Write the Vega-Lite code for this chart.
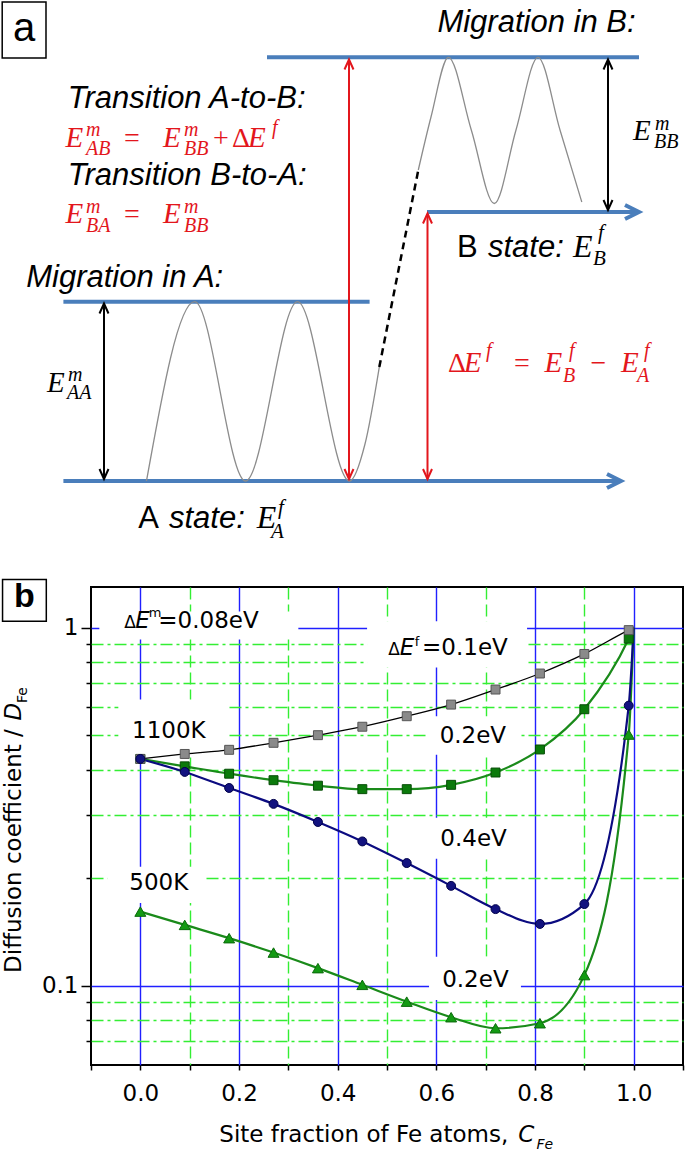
{
  "$schema": "https://vega.github.io/schema/vega-lite/v6.json",
  "padding": 0,
  "background": "white",
  "spacing": 32,
  "align": "none",
  "resolve": {"scale": {"color": "independent", "size": "independent", "fill": "independent", "stroke": "independent", "shape": "independent", "strokeWidth": "independent"}},
  "config": {"view": {"stroke": null}},
  "datasets": {
    "levels": [
      {"x": 267, "x2": 639, "y": 57.3},
      {"x": 427, "x2": 635, "y": 212},
      {"x": 63.4, "x2": 369.6, "y": 301.7},
      {"x": 63.4, "x2": 617, "y": 481}
    ],
    "levelArrowTips": [{"x": 639, "y": 212}, {"x": 621, "y": 481}],
    "landscape": [
      {"curve": "A", "x": 146.5, "y": 481}, {"curve": "A", "x": 194.7, "y": 301.7}, {"curve": "A", "x": 245.5, "y": 481},
      {"curve": "A", "x": 297.5, "y": 301.7}, {"curve": "A", "x": 349.5, "y": 481}, {"curve": "A", "x": 365, "y": 444},
      {"curve": "A", "x": 379.3, "y": 367},
      {"curve": "B", "x": 418.3, "y": 170}, {"curve": "B", "x": 431, "y": 117}, {"curve": "B", "x": 448.4, "y": 57.3},
      {"curve": "B", "x": 471.3, "y": 130}, {"curve": "B", "x": 494.3, "y": 203.5}, {"curve": "B", "x": 516, "y": 130},
      {"curve": "B", "x": 538, "y": 57.3}, {"curve": "B", "x": 560, "y": 130}, {"curve": "B", "x": 581.8, "y": 202}
    ],
    "transitionPath": [{"x": 379.3, "y": 367}, {"x": 418.3, "y": 170}],
    "energyArrows": [
      {"ink": "red", "x": 349, "y": 60, "y2": 479},
      {"ink": "red", "x": 427.5, "y": 214, "y2": 479},
      {"ink": "black", "x": 104, "y": 304, "y2": 479},
      {"ink": "black", "x": 608, "y": 60, "y2": 210}
    ],
    "tipsUp": [
      {"ink": "red", "x": 349, "y": 59.5}, {"ink": "red", "x": 427.5, "y": 213.5},
      {"ink": "black", "x": 104, "y": 303.5}, {"ink": "black", "x": 608, "y": 59.5}
    ],
    "tipsDown": [
      {"ink": "red", "x": 349, "y": 479}, {"ink": "red", "x": 427.5, "y": 479},
      {"ink": "black", "x": 104, "y": 479}, {"ink": "black", "x": 608, "y": 210}
    ],
    "captionsItalic": [
      {"text": "Migration in B:", "x": 437.4, "y": 32},
      {"text": "Transition A-to-B:", "x": 67.8, "y": 108.3},
      {"text": "Transition B-to-A:", "x": 67.8, "y": 185},
      {"text": "Migration in A:", "x": 26.2, "y": 286.7},
      {"text": "state:", "x": 488, "y": 256.7},
      {"text": "state:", "x": 169, "y": 528.3}
    ],
    "captionsUpright": [
      {"text": "B", "x": 457, "y": 256.7},
      {"text": "A", "x": 138.3, "y": 528.3}
    ],
    "mathSymbols": [
      {"text": "E", "x": 65.6, "y": 146.7, "level": "main", "ink": "red"},
      {"text": "m", "x": 86, "y": 136, "level": "script", "ink": "red"},
      {"text": "AB", "x": 86, "y": 155, "level": "script", "ink": "red"},
      {"text": "E", "x": 163, "y": 146.7, "level": "main", "ink": "red"},
      {"text": "m", "x": 184, "y": 136, "level": "script", "ink": "red"},
      {"text": "BB", "x": 184, "y": 155, "level": "script", "ink": "red"},
      {"text": "E", "x": 248, "y": 146.7, "level": "main", "ink": "red"},
      {"text": "f", "x": 272, "y": 134, "level": "script", "ink": "red"},
      {"text": "E", "x": 65.6, "y": 223.3, "level": "main", "ink": "red"},
      {"text": "m", "x": 86, "y": 213, "level": "script", "ink": "red"},
      {"text": "BA", "x": 86, "y": 231.5, "level": "script", "ink": "red"},
      {"text": "E", "x": 163, "y": 223.3, "level": "main", "ink": "red"},
      {"text": "m", "x": 184, "y": 213, "level": "script", "ink": "red"},
      {"text": "BB", "x": 184, "y": 231.5, "level": "script", "ink": "red"},
      {"text": "E", "x": 633, "y": 140, "level": "main", "ink": "black"},
      {"text": "m", "x": 655, "y": 129.5, "level": "script", "ink": "black"},
      {"text": "BB", "x": 654, "y": 148, "level": "script", "ink": "black"},
      {"text": "E", "x": 47, "y": 391.7, "level": "main", "ink": "black"},
      {"text": "m", "x": 68, "y": 381, "level": "script", "ink": "black"},
      {"text": "AA", "x": 67, "y": 399, "level": "script", "ink": "black"},
      {"text": "E", "x": 573, "y": 256.7, "level": "large", "ink": "black"},
      {"text": "f", "x": 598, "y": 239, "level": "largescript", "ink": "black"},
      {"text": "B", "x": 593, "y": 265, "level": "largescript", "ink": "black"},
      {"text": "E", "x": 256.7, "y": 528.3, "level": "large", "ink": "black"},
      {"text": "f", "x": 278, "y": 514, "level": "largescript", "ink": "black"},
      {"text": "A", "x": 271, "y": 538, "level": "largescript", "ink": "black"},
      {"text": "E", "x": 463.7, "y": 371.7, "level": "main", "ink": "red"},
      {"text": "f", "x": 486, "y": 357, "level": "script", "ink": "red"},
      {"text": "E", "x": 544.6, "y": 371.7, "level": "main", "ink": "red"},
      {"text": "f", "x": 569, "y": 357, "level": "script", "ink": "red"},
      {"text": "B", "x": 563, "y": 382, "level": "script", "ink": "red"},
      {"text": "E", "x": 621, "y": 371.7, "level": "main", "ink": "red"},
      {"text": "f", "x": 644, "y": 357, "level": "script", "ink": "red"},
      {"text": "A", "x": 637, "y": 382, "level": "script", "ink": "red"}
    ],
    "mathOperators": [
      {"text": "=", "x": 124, "y": 146.7},
      {"text": "+", "x": 213, "y": 146.7},
      {"text": "Δ", "x": 232, "y": 146.7},
      {"text": "=", "x": 124, "y": 223.3},
      {"text": "Δ", "x": 448, "y": 371.7},
      {"text": "=", "x": 514, "y": 371.7},
      {"text": "−", "x": 590.6, "y": 371.7}
    ],
    "panelFrameA": [{"x": 2.2, "x2": 46, "y": 2, "y2": 58}],
    "panelLetterA": [{"text": "a", "x": 24, "y": 41}],
    "diffusion": [
      {"series": "0.2eV 1100K", "x": 0, "y": 0.430, "sampled": true},
      {"series": "0.2eV 1100K", "x": 0.09, "y": 0.410, "sampled": true},
      {"series": "0.2eV 1100K", "x": 0.18, "y": 0.391, "sampled": true},
      {"series": "0.2eV 1100K", "x": 0.27, "y": 0.375, "sampled": true},
      {"series": "0.2eV 1100K", "x": 0.36, "y": 0.362, "sampled": true},
      {"series": "0.2eV 1100K", "x": 0.45, "y": 0.354, "sampled": true},
      {"series": "0.2eV 1100K", "x": 0.54, "y": 0.354, "sampled": true},
      {"series": "0.2eV 1100K", "x": 0.63, "y": 0.364, "sampled": true},
      {"series": "0.2eV 1100K", "x": 0.72, "y": 0.394, "sampled": true},
      {"series": "0.2eV 1100K", "x": 0.81, "y": 0.457, "sampled": true},
      {"series": "0.2eV 1100K", "x": 0.90, "y": 0.592, "sampled": true},
      {"series": "0.2eV 1100K", "x": 0.99, "y": 0.932, "sampled": true},
      {"series": "0.2eV 1100K", "x": 1.0, "y": 1.0, "sampled": false},
      {"series": "0.1eV 1100K", "x": 0, "y": 0.430, "sampled": true},
      {"series": "0.1eV 1100K", "x": 0.09, "y": 0.444, "sampled": true},
      {"series": "0.1eV 1100K", "x": 0.18, "y": 0.456, "sampled": true},
      {"series": "0.1eV 1100K", "x": 0.27, "y": 0.477, "sampled": true},
      {"series": "0.1eV 1100K", "x": 0.36, "y": 0.501, "sampled": true},
      {"series": "0.1eV 1100K", "x": 0.45, "y": 0.529, "sampled": true},
      {"series": "0.1eV 1100K", "x": 0.54, "y": 0.566, "sampled": true},
      {"series": "0.1eV 1100K", "x": 0.63, "y": 0.610, "sampled": true},
      {"series": "0.1eV 1100K", "x": 0.72, "y": 0.672, "sampled": true},
      {"series": "0.1eV 1100K", "x": 0.81, "y": 0.745, "sampled": true},
      {"series": "0.1eV 1100K", "x": 0.90, "y": 0.845, "sampled": true},
      {"series": "0.1eV 1100K", "x": 0.99, "y": 0.985, "sampled": true},
      {"series": "0.1eV 1100K", "x": 1.0, "y": 1.0, "sampled": false},
      {"series": "0.2eV 500K", "x": 0, "y": 0.161, "sampled": true},
      {"series": "0.2eV 500K", "x": 0.09, "y": 0.1478, "sampled": true},
      {"series": "0.2eV 500K", "x": 0.18, "y": 0.1357, "sampled": true},
      {"series": "0.2eV 500K", "x": 0.27, "y": 0.1237, "sampled": true},
      {"series": "0.2eV 500K", "x": 0.36, "y": 0.1119, "sampled": true},
      {"series": "0.2eV 500K", "x": 0.45, "y": 0.1005, "sampled": true},
      {"series": "0.2eV 500K", "x": 0.54, "y": 0.0902, "sampled": true},
      {"series": "0.2eV 500K", "x": 0.63, "y": 0.0816, "sampled": true},
      {"series": "0.2eV 500K", "x": 0.72, "y": 0.0760, "sampled": true},
      {"series": "0.2eV 500K", "x": 0.81, "y": 0.0785, "sampled": true},
      {"series": "0.2eV 500K", "x": 0.90, "y": 0.107, "sampled": true},
      {"series": "0.2eV 500K", "x": 0.99, "y": 0.503, "sampled": true},
      {"series": "0.2eV 500K", "x": 1.0, "y": 1.0, "sampled": false},
      {"series": "0.4eV 1100K", "x": 0, "y": 0.430, "sampled": true},
      {"series": "0.4eV 1100K", "x": 0.09, "y": 0.3955, "sampled": true},
      {"series": "0.4eV 1100K", "x": 0.18, "y": 0.3567, "sampled": true},
      {"series": "0.4eV 1100K", "x": 0.27, "y": 0.322, "sampled": true},
      {"series": "0.4eV 1100K", "x": 0.36, "y": 0.2866, "sampled": true},
      {"series": "0.4eV 1100K", "x": 0.45, "y": 0.2529, "sampled": true},
      {"series": "0.4eV 1100K", "x": 0.54, "y": 0.220, "sampled": true},
      {"series": "0.4eV 1100K", "x": 0.63, "y": 0.190, "sampled": true},
      {"series": "0.4eV 1100K", "x": 0.72, "y": 0.1636, "sampled": true},
      {"series": "0.4eV 1100K", "x": 0.81, "y": 0.1487, "sampled": true},
      {"series": "0.4eV 1100K", "x": 0.90, "y": 0.169, "sampled": true},
      {"series": "0.4eV 1100K", "x": 0.99, "y": 0.606, "sampled": true},
      {"series": "0.4eV 1100K", "x": 1.0, "y": 1.0, "sampled": false}
    ],
    "labelBoxes": [
      {"x": -0.0831, "x2": 0.3203, "y": 1.1107, "y2": 0.9275},
      {"x": 0.4596, "x2": 0.7839, "y": 1.0434, "y2": 0.7740},
      {"x": -0.0446, "x2": 0.1758, "y": 0.6299, "y2": 0.4364},
      {"x": 0.5812, "x2": 0.7703, "y": 0.5658, "y2": 0.4420},
      {"x": 0.5812, "x2": 0.7703, "y": 0.2945, "y2": 0.2262},
      {"x": -0.0669, "x2": 0.1330, "y": 0.2148, "y2": 0.1703},
      {"x": 0.5852, "x2": 0.7715, "y": 0.1205, "y2": 0.0912}
    ],
    "curveLabels": [
      {"text": "=0.08eV", "x": 0.0365, "y": 1.0},
      {"text": "=0.1eV", "x": 0.571, "y": 0.8366},
      {"text": "1100K", "x": -0.0168, "y": 0.4924},
      {"text": "0.2eV", "x": 0.6067, "y": 0.4769},
      {"text": "0.4eV", "x": 0.6081, "y": 0.2448},
      {"text": "500K", "x": -0.0223, "y": 0.1853},
      {"text": "0.2eV", "x": 0.6118, "y": 0.0994}
    ],
    "deltaSigns": [
      {"text": "Δ", "x": -0.0324, "y": 1.0},
      {"text": "Δ", "x": 0.5027, "y": 0.8366}
    ],
    "energySymbols": [
      {"text": "E", "x": -0.0101, "y": 1.0},
      {"text": "E", "x": 0.5256, "y": 0.8366}
    ],
    "superscripts": [
      {"text": "m", "x": 0.0172, "y": 1.075},
      {"text": "f", "x": 0.5565, "y": 0.892}
    ],
    "panelFrameB": [{"x": -0.2793, "x2": -0.1906, "y": 1.3652, "y2": 1.0434}],
    "panelLetterB": [{"text": "b", "x": -0.2351, "y": 1.1398}],
    "yTitle": [{"text": "Diffusion coefficient / ", "x": -0.2422, "y": 0.1085}],
    "yTitleItalic": [{"text": "D", "x": -0.2422, "y": 0.5503}],
    "yTitleSub": [{"text": "Fe", "x": -0.2291, "y": 0.6165}],
    "xTitle": [{"text": "Site fraction of Fe atoms, ", "x": 0.1601, "y": 0.03661}],
    "xTitleItalic": [{"text": "C", "x": 0.7662, "y": 0.03661}],
    "xTitleSub": [{"text": "Fe", "x": 0.8029, "y": 0.03491}]
  },
  "vconcat": [
    {
      "width": 594,
      "height": 545,
      "encoding": {
        "x": {"field": "x", "type": "quantitative", "scale": {"domain": [91, 685], "nice": false, "zero": false}, "axis": null},
        "y": {"field": "y", "type": "quantitative", "scale": {"domain": [0, 545], "nice": false, "zero": false, "reverse": true}, "axis": null}
      },
      "layer": [
        {"data": {"name": "panelFrameA"}, "mark": {"type": "rect", "fill": "white", "stroke": "black", "strokeWidth": 1.5}, "encoding": {"x2": {"field": "x2"}, "y2": {"field": "y2"}}},
        {"data": {"name": "panelLetterA"}, "mark": {"type": "text", "font": "Liberation Sans", "fontSize": 40, "align": "center", "baseline": "alphabetic", "color": "black"}, "encoding": {"text": {"field": "text"}}},
        {"data": {"name": "levels"}, "mark": {"type": "rule", "color": "#4a7ebb", "strokeWidth": 4}, "encoding": {"x2": {"field": "x2"}}},
        {"data": {"name": "levelArrowTips"}, "mark": {"type": "point", "shape": "M-2.8,-1.4L0,0L-2.8,1.4", "size": 100, "filled": false, "color": "#4a7ebb", "strokeWidth": 4, "opacity": 1}},
        {"data": {"name": "landscape"}, "mark": {"type": "line", "interpolate": "monotone", "color": "#8c8c8c", "strokeWidth": 1.3}, "encoding": {"detail": {"field": "curve", "type": "nominal"}}},
        {"data": {"name": "transitionPath"}, "mark": {"type": "line", "color": "black", "strokeWidth": 2.5, "strokeDash": [7, 5]}},
        {"data": {"name": "energyArrows"}, "mark": {"type": "rule", "strokeWidth": 2}, "encoding": {"y2": {"field": "y2"}, "color": {"field": "ink", "type": "nominal", "scale": {"domain": ["red", "black"], "range": ["#e3161c", "#000000"]}, "legend": null}}},
        {"data": {"name": "tipsUp"}, "mark": {"type": "point", "shape": "M-0.9,2L0,0L0.9,2", "size": 100, "filled": false, "strokeWidth": 2, "opacity": 1}, "encoding": {"color": {"field": "ink", "type": "nominal", "legend": null}}},
        {"data": {"name": "tipsDown"}, "mark": {"type": "point", "shape": "M-0.9,-2L0,0L0.9,-2", "size": 100, "filled": false, "strokeWidth": 2, "opacity": 1}, "encoding": {"color": {"field": "ink", "type": "nominal", "legend": null}}},
        {"data": {"name": "captionsItalic"}, "mark": {"type": "text", "font": "Liberation Sans", "fontStyle": "italic", "fontSize": 31, "align": "left", "baseline": "alphabetic", "color": "black"}, "encoding": {"text": {"field": "text"}}},
        {"data": {"name": "captionsUpright"}, "mark": {"type": "text", "font": "Liberation Sans", "fontSize": 31, "align": "left", "baseline": "alphabetic", "color": "black"}, "encoding": {"text": {"field": "text"}}},
        {"data": {"name": "mathSymbols"}, "mark": {"type": "text", "font": "Liberation Serif", "fontStyle": "italic", "align": "left", "baseline": "alphabetic"},
          "encoding": {
            "text": {"field": "text"},
            "size": {"condition": [{"test": "datum.level == 'script'", "value": 20}, {"test": "datum.level == 'large'", "value": 32}, {"test": "datum.level == 'largescript'", "value": 21}], "value": 29},
            "color": {"field": "ink", "type": "nominal", "legend": null}
          }},
        {"data": {"name": "mathOperators"}, "mark": {"type": "text", "font": "Liberation Serif", "fontSize": 28, "align": "left", "baseline": "alphabetic", "color": "#e3161c"}, "encoding": {"text": {"field": "text"}}}
      ]
    },
    {
      "width": 592,
      "height": 478,
      "view": {"stroke": "black", "strokeWidth": 2},
      "encoding": {
        "x": {
          "field": "x", "type": "quantitative", "title": null,
          "scale": {"domain": [-0.1, 1.1], "nice": false, "zero": false},
          "axis": {
            "orient": "bottom",
            "values": [-0.1, 0, 0.1, 0.2, 0.3, 0.4, 0.5, 0.6, 0.7, 0.8, 0.9, 1, 1.1],
            "labelExpr": "(abs(round(datum.value * 10)) % 2 == 0 && datum.value > -0.05 && datum.value < 1.05) ? format(datum.value, '.1f') : ''",
            "domain": false, "tickSize": 5, "tickWidth": 1.5, "tickColor": "black",
            "labelFont": "DejaVu Sans", "labelFontSize": 23, "labelColor": "black", "labelPadding": 12,
            "labelOverlap": false, "labelFlush": false, "labelBound": false,
            "grid": true, "gridWidth": 1.4,
            "gridColor": {"condition": {"test": "abs(round(datum.value * 10)) % 2 == 0", "value": "#2020ff"}, "value": "#33ee33"},
            "gridDash": {"condition": {"test": "abs(round(datum.value * 10)) % 2 == 0", "value": []}, "value": [12, 5]},
            "gridOpacity": {"condition": {"test": "datum.value < -0.05 || datum.value > 1.05", "value": 0}, "value": 1},
            "title": null
          }
        },
        "y": {
          "field": "y", "type": "quantitative", "title": null,
          "scale": {"type": "log", "domain": [0.06, 1.3], "nice": false},
          "axis": {
            "orient": "left",
            "values": [1, 0.9, 0.8, 0.7, 0.6, 0.5, 0.4, 0.3, 0.2, 0.1, 0.09, 0.08, 0.07],
            "labelExpr": "datum.value == 1 ? '1' : (datum.value == 0.1 ? '0.1' : '')",
            "domain": false, "tickWidth": 1.5, "tickColor": "black",
            "tickSize": {"condition": {"test": "datum.value == 1 || datum.value == 0.1", "value": 10}, "value": 5},
            "labelFont": "DejaVu Sans", "labelFontSize": 23, "labelColor": "black", "labelPadding": 3,
            "labelOverlap": false, "labelFlush": false, "labelBound": false,
            "grid": true, "gridWidth": 1.4,
            "gridColor": {"condition": {"test": "datum.value == 1 || datum.value == 0.1", "value": "#2020ff"}, "value": "#33ee33"},
            "gridDash": {"condition": {"test": "datum.value == 1 || datum.value == 0.1", "value": []}, "value": [12, 4, 3, 4]},
            "title": null
          }
        }
      },
      "layer": [
        {"data": {"name": "labelBoxes"}, "mark": {"type": "rect", "fill": "white", "strokeWidth": 0}, "encoding": {"x2": {"field": "x2"}, "y2": {"field": "y2"}}},
        {"data": {"name": "diffusion"}, "mark": {"type": "line", "interpolate": "monotone"},
          "encoding": {
            "color": {"field": "series", "type": "nominal", "scale": {"domain": ["0.1eV 1100K", "0.2eV 1100K", "0.4eV 1100K", "0.2eV 500K"], "range": ["#000000", "#1a8a1a", "#0b0b80", "#1a8a1a"]}, "legend": null},
            "strokeWidth": {"condition": {"test": "datum.series == '0.1eV 1100K'", "value": 1.3}, "value": 2.2}
          }},
        {"data": {"name": "diffusion"}, "transform": [{"filter": "datum.sampled"}], "mark": {"type": "point", "filled": true, "opacity": 1, "strokeWidth": 1},
          "encoding": {
            "fill": {"field": "series", "type": "nominal", "scale": {"domain": ["0.1eV 1100K", "0.2eV 1100K", "0.4eV 1100K", "0.2eV 500K"], "range": ["#8a8a8a", "#0b7a0b", "#12127f", "#139a13"]}, "legend": null},
            "stroke": {"field": "series", "type": "nominal", "scale": {"domain": ["0.1eV 1100K", "0.2eV 1100K", "0.4eV 1100K", "0.2eV 500K"], "range": ["#555555", "#064d06", "#00004a", "#0b6b0b"]}, "legend": null},
            "shape": {"field": "series", "type": "nominal", "scale": {"domain": ["0.1eV 1100K", "0.2eV 1100K", "0.4eV 1100K", "0.2eV 500K"], "range": ["square", "square", "circle", "triangle-up"]}, "legend": null},
            "size": {"condition": {"test": "datum.series == '0.2eV 500K'", "value": 120}, "value": 80}
          }},
        {"data": {"name": "curveLabels"}, "mark": {"type": "text", "font": "DejaVu Sans", "fontSize": 23, "align": "left", "baseline": "alphabetic", "color": "black"}, "encoding": {"text": {"field": "text"}}},
        {"data": {"name": "deltaSigns"}, "mark": {"type": "text", "font": "DejaVu Sans", "fontSize": 17, "align": "left", "baseline": "alphabetic", "color": "black"}, "encoding": {"text": {"field": "text"}}},
        {"data": {"name": "energySymbols"}, "mark": {"type": "text", "font": "DejaVu Sans", "fontStyle": "italic", "fontSize": 23, "align": "left", "baseline": "alphabetic", "color": "black"}, "encoding": {"text": {"field": "text"}}},
        {"data": {"name": "superscripts"}, "mark": {"type": "text", "font": "DejaVu Sans", "fontSize": 13, "align": "left", "baseline": "alphabetic", "color": "black"}, "encoding": {"text": {"field": "text"}}},
        {"data": {"name": "panelFrameB"}, "mark": {"type": "rect", "fill": "white", "stroke": "black", "strokeWidth": 1.5}, "encoding": {"x2": {"field": "x2"}, "y2": {"field": "y2"}}},
        {"data": {"name": "panelLetterB"}, "mark": {"type": "text", "font": "Liberation Sans", "fontWeight": "bold", "fontSize": 34, "align": "center", "baseline": "alphabetic", "color": "black"}, "encoding": {"text": {"field": "text"}}},
        {"data": {"name": "yTitle"}, "mark": {"type": "text", "font": "DejaVu Sans", "fontSize": 23, "angle": 270, "align": "left", "baseline": "alphabetic", "color": "black"}, "encoding": {"text": {"field": "text"}}},
        {"data": {"name": "yTitleItalic"}, "mark": {"type": "text", "font": "DejaVu Sans", "fontStyle": "italic", "fontSize": 23, "angle": 270, "align": "left", "baseline": "alphabetic", "color": "black"}, "encoding": {"text": {"field": "text"}}},
        {"data": {"name": "yTitleSub"}, "mark": {"type": "text", "font": "DejaVu Sans", "fontSize": 14, "angle": 270, "align": "left", "baseline": "alphabetic", "color": "black"}, "encoding": {"text": {"field": "text"}}},
        {"data": {"name": "xTitle"}, "mark": {"type": "text", "font": "DejaVu Sans", "fontSize": 23, "align": "left", "baseline": "alphabetic", "color": "black"}, "encoding": {"text": {"field": "text"}}},
        {"data": {"name": "xTitleItalic"}, "mark": {"type": "text", "font": "DejaVu Sans", "fontStyle": "italic", "fontSize": 23, "align": "left", "baseline": "alphabetic", "color": "black"}, "encoding": {"text": {"field": "text"}}},
        {"data": {"name": "xTitleSub"}, "mark": {"type": "text", "font": "DejaVu Sans", "fontStyle": "italic", "fontSize": 14, "align": "left", "baseline": "alphabetic", "color": "black"}, "encoding": {"text": {"field": "text"}}}
      ]
    }
  ]
}
